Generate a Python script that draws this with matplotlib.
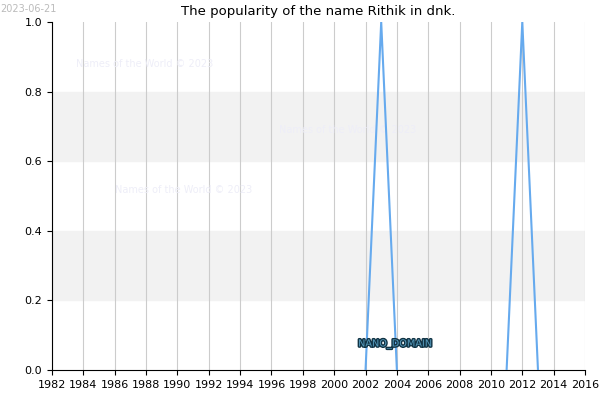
import matplotlib
matplotlib.use("Agg")
import matplotlib.pyplot as plt
import matplotlib.patheffects as pe
import numpy as np

years = [2002, 2003, 2004, 2005, 2011, 2012, 2013]
values = [0, 1, 0, np.nan, 0, 1, 0]

fig = plt.figure(figsize=(6, 4), dpi=100)
ax = fig.add_axes([52/600, 30/400, 533/600, 348/400])
ax.axhspan(0.2, 0.4, color="#f2f2f2", zorder=0)
ax.axhspan(0.6, 0.8, color="#f2f2f2", zorder=0)
ax.plot(years, values, color="#66aaee", lw=1.5, zorder=3)
ax.set_xlim(1982, 2016)
ax.set_ylim(0, 1)
ax.set_xticks(range(1982, 2017, 2))
ax.set_yticks([0, 0.2, 0.4, 0.6, 0.8, 1.0])
ax.set_yticklabels(["0.0", "0.2", "0.4", "0.6", "0.8", "1.0"])
ax.tick_params(labelsize=8)
ax.grid(axis="x", color="#cccccc", lw=0.8)
ax.set_axisbelow(True)
for s in ["top", "right"]:
    ax.spines[s].set_visible(False)
ax.set_title("The popularity of the name Rithik in dnk.", fontsize=9.5, pad=5)
fig.text(0.0, 0.99, "2023-06-21", fontsize=7, color="#bbbbbb", va="top")
for x, y in [(1983.5, 0.87), (1996.5, 0.68), (1986, 0.51)]:
    ax.text(x, y, "Names of the World © 2023", fontsize=7, color="#eeeef8", zorder=1)
ax.text(2003.9, 0.075, "NANO_DOMAIN", fontsize=7, color="#5599bb", ha="center", va="center", zorder=5,
        path_effects=[pe.withStroke(linewidth=2, foreground="#113344")])
fig.savefig("out.png", dpi=100)
